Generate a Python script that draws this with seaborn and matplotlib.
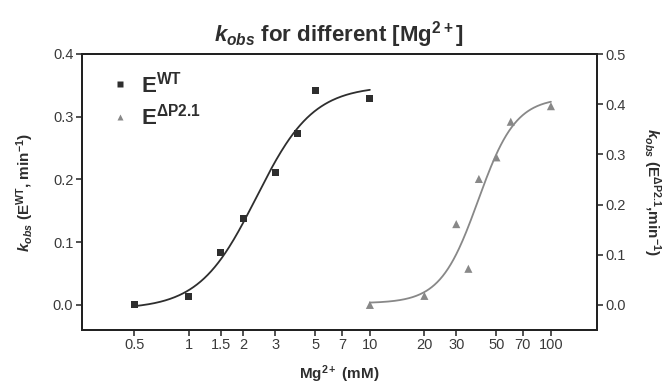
import numpy as np
import pandas as pd
import matplotlib
matplotlib.use("Agg")
import matplotlib.pyplot as plt
import seaborn as sns
from matplotlib.lines import Line2D

# ---- data ----
wt_mg = [0.5, 1, 1.5, 2, 3, 4, 5, 10]
wt_kobs = [0.0, 0.013, 0.083, 0.138, 0.211, 0.273, 0.342, 0.329]
dp_mg = [10, 20, 30, 35, 40, 50, 60, 100]
dp_kobs = [0.0, 0.018, 0.161, 0.072, 0.251, 0.294, 0.365, 0.396]
x_ticks = [0.5, 1, 1.5, 2, 3, 5, 7, 10, 20, 30, 50, 70, 100]
x_ticklabels = ["0.5", "1", "1.5", "2", "3", "5", "7", "10", "20", "30", "50", "70", "100"]
left_ticks = [0.0, 0.1, 0.2, 0.3, 0.4]
right_ticks = [0.0, 0.1, 0.2, 0.3, 0.4, 0.5]

sns.set_theme(style="ticks")
plt.rcParams["font.family"] = ["Liberation Sans", "DejaVu Sans"]
plt.rcParams["mathtext.fontset"] = "custom"
plt.rcParams["mathtext.rm"] = "Liberation Sans:bold"
plt.rcParams["mathtext.it"] = "Liberation Sans:bold:italic"
plt.rcParams["mathtext.bf"] = "Liberation Sans:bold"

DARK = "#2e2e2e"
GRAY = "#888888"


def hill_fit(x, y):
    """Least-squares fit of a sigmoidal (Hill) dose response to the points."""
    x = np.asarray(x, float)
    y = np.asarray(y, float)
    best = None
    for lk in np.linspace(np.log10(x.min()), np.log10(x.max()), 200):
        for n in np.linspace(0.5, 8, 150):
            s = 1.0 / (1.0 + (10 ** lk / x) ** n)
            A = np.column_stack([np.ones_like(s), s])
            coef, *_ = np.linalg.lstsq(A, y, rcond=None)
            r = np.sum((A @ coef - y) ** 2)
            if best is None or r < best[0]:
                best = (r, lk, n, coef)
    _, lk, n, coef = best
    xs = np.geomspace(x.min(), x.max(), 200)
    ys = coef[0] + coef[1] / (1.0 + (10 ** lk / xs) ** n)
    return xs, ys


wt_df = pd.DataFrame({"mg": wt_mg, "kobs": wt_kobs})
dp_df = pd.DataFrame({"mg": dp_mg, "kobs": dp_kobs})
wx, wy = hill_fit(wt_mg, wt_kobs)
dx, dy = hill_fit(dp_mg, dp_kobs)
wt_fit = pd.DataFrame({"mg": wx, "kobs": wy})
dp_fit = pd.DataFrame({"mg": dx, "kobs": dy})

fig = plt.figure(figsize=(6.66, 3.86), dpi=100)
ax = fig.add_axes([81.7 / 666, 1 - 330 / 386, (596.7 - 81.7) / 666, (330 - 54) / 386])
ax2 = ax.twinx()

sns.lineplot(data=wt_fit, x="mg", y="kobs", ax=ax, color=DARK, lw=1.3)
sns.scatterplot(data=wt_df, x="mg", y="kobs", ax=ax, marker="s", s=26,
                color=DARK, edgecolor="none")
sns.lineplot(data=dp_fit, x="mg", y="kobs", ax=ax2, color=GRAY, lw=1.3)
sns.scatterplot(data=dp_df, x="mg", y="kobs", ax=ax2, marker="^", s=34,
                color=GRAY, edgecolor="none")

ax.set_xscale("log")
ax.set_xlim(0.256, 179)
ax.set_ylim(-0.04, 0.4)
ax2.set_ylim(-0.05, 0.5)
ax.set_xticks(x_ticks)
ax.set_xticklabels(x_ticklabels)
ax.xaxis.set_minor_locator(matplotlib.ticker.NullLocator())
ax.set_yticks(left_ticks)
ax.set_yticklabels([f"{v:.1f}" for v in left_ticks])
ax2.set_yticks(right_ticks)
ax2.set_yticklabels([f"{v:.1f}" for v in right_ticks])

for a in (ax, ax2):
    for sp in a.spines.values():
        sp.set_visible(True)
        sp.set_color("#222222")
        sp.set_linewidth(1.4)
    a.tick_params(axis="both", which="major", direction="out", length=4,
                  width=1.1, color="#222222", labelsize=10.5, labelcolor="#3a3a3a", pad=2)

ax.set_xlabel(r"Mg$^{\mathbf{2+}}$ (mM)", fontsize=11, fontweight="bold",
              color=DARK, labelpad=8)
ax.set_ylabel(r"$k_{obs}$ (E$^{\mathbf{WT}}$, min$^{\mathbf{-1}}$)", fontsize=11,
              fontweight="bold", color=DARK, labelpad=12)
ax2.set_ylabel(r"$k_{obs}$ (E$^{\mathbf{\Delta P2.1}}$,min$^{\mathbf{-1}}$)", fontsize=11,
               fontweight="bold", color=DARK, rotation=270, labelpad=27)
ax.set_title(r"$k_{obs}$ for different [Mg$^{\mathbf{2+}}$]", fontsize=16,
             fontweight="bold", color=DARK, pad=9)

handles = [
    Line2D([], [], ls="none", marker="s", ms=4, color=DARK, mec="none"),
    Line2D([], [], ls="none", marker="^", ms=5, color=GRAY, mec="none"),
]
labels = [r"E$^{\mathbf{WT}}$", r"E$^{\mathbf{\Delta P2.1}}$"]
leg = ax.legend(handles, labels, loc="upper left", frameon=False,
                prop={"weight": "bold", "size": 16}, handletextpad=0.45,
                handlelength=1.0, labelspacing=0.3, borderaxespad=0.0,
                bbox_to_anchor=(0.035, 0.97))
for t in leg.get_texts():
    t.set_color(DARK)

fig.savefig("out.png", dpi=100)
